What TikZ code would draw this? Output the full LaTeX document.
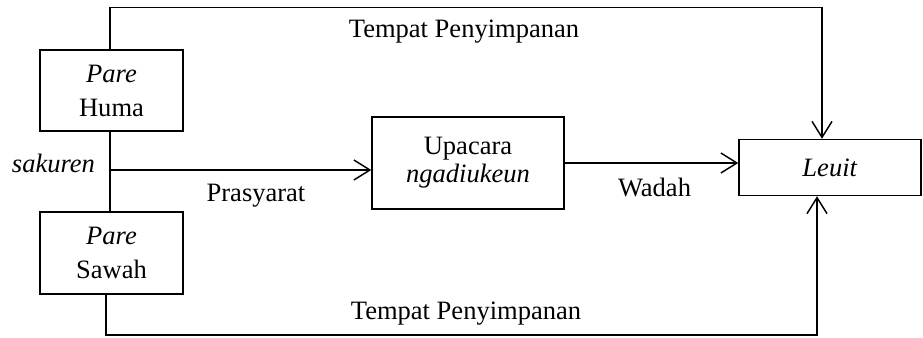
\documentclass[tikz,border=0pt]{standalone}
\usepackage{fontspec}
\setmainfont{Liberation Serif}
\usetikzlibrary{arrows.meta}
\begin{document}
\begin{tikzpicture}[x=0.75pt,y=-0.75pt,
  line width=1.1pt,
  every node/.style={font=\fontsize{19.9}{25.5}\selectfont, inner sep=0pt},
  box/.style={draw, line width=1.1pt, align=center},
  lbl/.style={anchor=base},
  arr/.style={-{Straight Barb[length=12pt,width=15pt,line width=1.1pt]}}]
\useasboundingbox (0,0) rectangle (923,338);

% boxes
\node[box, minimum width=143*0.75pt, minimum height=81*0.75pt] (huma) at (111.5,90.5) {\textit{Pare}\\Huma};
\node[box, minimum width=143*0.75pt, minimum height=82*0.75pt] (sawah) at (111.5,253) {\textit{Pare}\\Sawah};
\node[box, minimum width=192*0.75pt, minimum height=92*0.75pt,
      font=\fontsize{19.9}{21}\selectfont] (upacara) at (468,163) {Upacara\\\textit{ngadiukeun}};
\node[box, minimum width=182*0.75pt, minimum height=56*0.75pt] (leuit) at (830,167.5) {\textit{Leuit}};

% routing corners
\coordinate (t1) at (110,7.5);
\coordinate (t2) at (822,7.5);
\coordinate (b1) at (106,335);
\coordinate (b2) at (817,335);
\coordinate (j) at (110,170);

% connectors
\draw[arr] (huma.north -| t1) -- (t1) -- (t2) -- (leuit.north -| t2);
\draw[arr] (sawah.south -| b1) -- (b1) -- (b2) -- (leuit.south -| b2);
\draw (huma.south -| t1) -- (sawah.north -| t1);
\draw[arr] (j) -- (upacara.west |- j);
\draw[arr] (upacara.east) -- (upacara.east -| leuit.west);

% labels
\node[lbl] (ltop) at (464,38) {Tempat Penyimpanan};
\node[lbl] (lbot) at (466,319) {Tempat Penyimpanan};
\node[lbl] (lpra) at (256,202) {Prasyarat};
\node[lbl] (lwad) at (654.5,197) {Wadah};
\node[lbl] (lsak) at (53.5,173) {\textit{sakuren}};
\end{tikzpicture}
\end{document}
